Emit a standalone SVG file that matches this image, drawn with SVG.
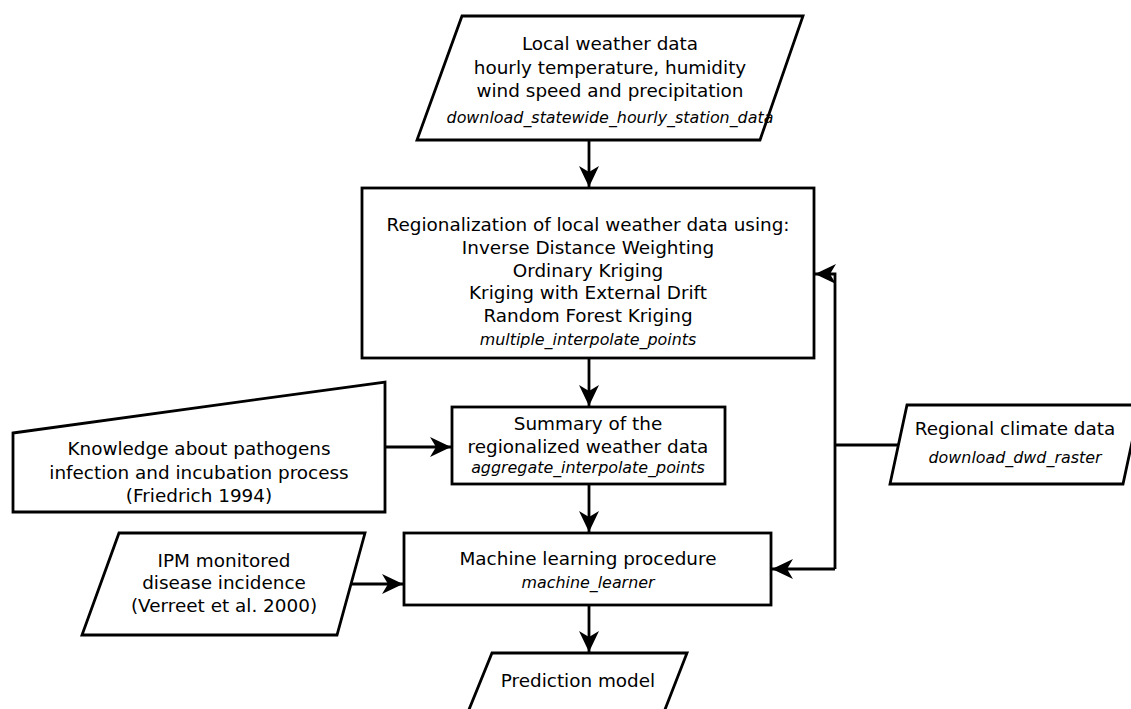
<svg xmlns="http://www.w3.org/2000/svg" width="1131" height="709" viewBox="0 0 1131 709">
<style>
.shape{fill:#fff;stroke:#000;stroke-width:2.8;stroke-linejoin:miter}
.t{font-family:"DejaVu Sans",sans-serif;font-size:18.4px;fill:#000;text-anchor:middle}
.i{font-family:"DejaVu Sans",sans-serif;font-size:15.9px;font-style:italic;fill:#000;text-anchor:middle}
.c{fill:none;stroke:#000;stroke-width:2.8}
</style>
<defs>
<marker id="ah" markerUnits="userSpaceOnUse" markerWidth="24" markerHeight="24" viewBox="-22 -11 24 22" refX="0" refY="0" orient="auto">
<path d="M0,0 L-21,-10 L-15,0 L-21,10 Z" fill="#000"/>
</marker>
</defs>
<rect width="1131" height="709" fill="#fff"/>
<g id="local-weather">
<polygon class="shape" points="462,16 803,16 760,140 417,140"/>
<text class="t" x="610" y="50">Local weather data</text>
<text class="t" x="610" y="74">hourly temperature, humidity</text>
<text class="t" x="610" y="97">wind speed and precipitation</text>
<text class="i" x="610" y="123">download_statewide_hourly_station_data</text>
</g>
<g id="regionalization">
<rect class="shape" x="362" y="188" width="452" height="170"/>
<text class="t" x="588" y="231">Regionalization of local weather data using:</text>
<text class="t" x="588" y="254">Inverse Distance Weighting</text>
<text class="t" x="588" y="277">Ordinary Kriging</text>
<text class="t" x="588" y="299">Kriging with External Drift</text>
<text class="t" x="588" y="322">Random Forest Kriging</text>
<text class="i" x="588" y="345">multiple_interpolate_points</text>
</g>
<g id="knowledge">
<polygon class="shape" points="13,433 385,382 385,512 13,512"/>
<text class="t" x="199" y="455">Knowledge about pathogens</text>
<text class="t" x="199" y="479">infection and incubation process</text>
<text class="t" x="199" y="502">(Friedrich 1994)</text>
</g>
<g id="summary">
<rect class="shape" x="452" y="407" width="273" height="77"/>
<text class="t" x="588" y="430">Summary of the</text>
<text class="t" x="588" y="453">regionalized weather data</text>
<text class="i" x="588" y="473">aggregate_interpolate_points</text>
</g>
<g id="regional-climate">
<polygon class="shape" points="907,405 1140,405 1123,484 890,484"/>
<text class="t" x="1015" y="435">Regional climate data</text>
<text class="i" x="1015" y="463">download_dwd_raster</text>
</g>
<g id="ipm">
<polygon class="shape" points="119,533 365,533 337,635 82,635"/>
<text class="t" x="224" y="567">IPM monitored</text>
<text class="t" x="224" y="589">disease incidence</text>
<text class="t" x="224" y="612">(Verreet et al. 2000)</text>
</g>
<g id="machine-learning">
<rect class="shape" x="404" y="533" width="367" height="72"/>
<text class="t" x="588" y="565">Machine learning procedure</text>
<text class="i" x="588" y="588">machine_learner</text>
</g>
<g id="prediction">
<polygon class="shape" points="492,653 687,653 664,712 468,712"/>
<text class="t" x="578" y="687">Prediction model</text>
</g>
<g id="connectors">
<line class="c" x1="589" y1="140" x2="589" y2="187" marker-end="url(#ah)"/>
<line class="c" x1="589" y1="358" x2="589" y2="406" marker-end="url(#ah)"/>
<line class="c" x1="385" y1="447" x2="451" y2="447" marker-end="url(#ah)"/>
<line class="c" x1="589" y1="484" x2="589" y2="532" marker-end="url(#ah)"/>
<line class="c" x1="351" y1="584" x2="403" y2="584" marker-end="url(#ah)"/>
<line class="c" x1="589" y1="605" x2="589" y2="652" marker-end="url(#ah)"/>
<line class="c" x1="898" y1="445" x2="835" y2="445"/>
<polyline class="c" points="835,569 835,274 815,274" marker-end="url(#ah)"/>
<polyline class="c" points="835,569 772,569" marker-end="url(#ah)"/>
</g>
</svg>
